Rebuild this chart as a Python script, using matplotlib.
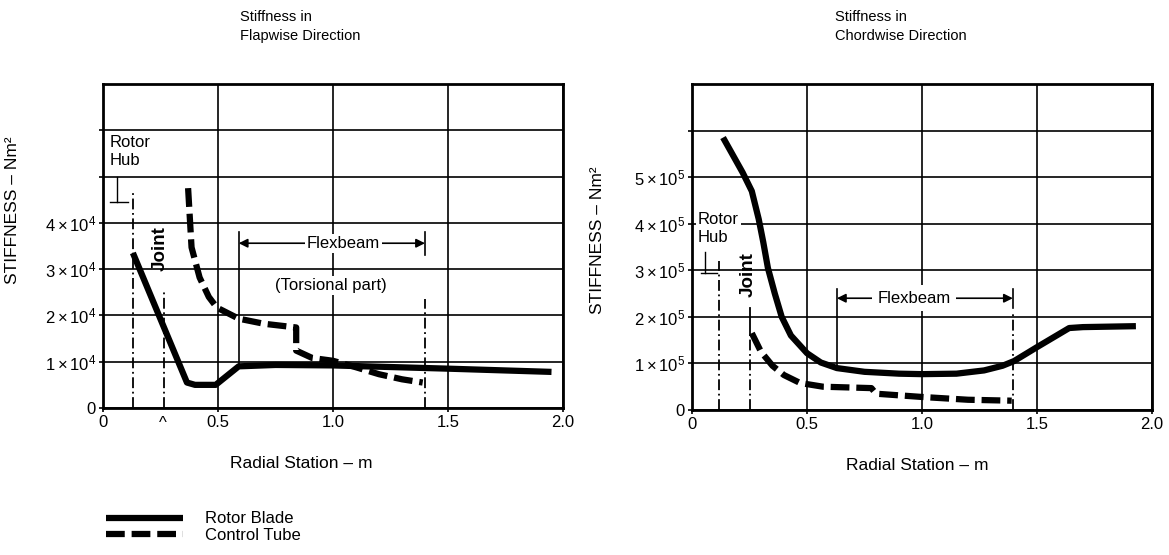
"""
Stiffness of rotor blade and control tube along the radius
Left: flapwise direction / Right: chordwise direction
"""
import numpy as np
import matplotlib
matplotlib.use("Agg")
import matplotlib.pyplot as plt

plt.rcParams["font.family"] = ["Liberation Sans", "DejaVu Sans"]
plt.rcParams["mathtext.fontset"] = "custom"
plt.rcParams["mathtext.rm"] = "Liberation Sans"
plt.rcParams["mathtext.it"] = "Liberation Sans"

# ── data ───────────────────────────────────────────────────────────────────
# flapwise, Nm^2
flap_blade_r = [0.13, 0.365, 0.40, 0.49, 0.59, 0.75, 1.0, 1.5, 1.95]
flap_blade_s = [3.35e4, 0.55e4, 0.50e4, 0.50e4, 0.90e4, 0.93e4, 0.92e4, 0.85e4, 0.78e4]

flap_tube_r = [0.37, 0.385, 0.42, 0.46, 0.495, 0.59, 0.70, 0.84, 0.84, 0.91, 1.0, 1.1, 1.2, 1.3, 1.39]
flap_tube_s = [4.75e4, 3.47e4, 2.82e4, 2.40e4, 2.17e4, 1.93e4, 1.82e4, 1.74e4,
               1.24e4, 1.08e4, 1.02e4, 0.88e4, 0.73e4, 0.62e4, 0.55e4]

# chordwise, Nm^2
chord_blade_r = [0.135, 0.22, 0.26, 0.29, 0.31, 0.33, 0.36, 0.39, 0.43, 0.50, 0.56,
                 0.63, 0.75, 0.90, 1.0, 1.15, 1.27, 1.35, 1.40, 1.50, 1.64, 1.70, 1.93]
chord_blade_s = [5.85e5, 5.10e5, 4.70e5, 4.10e5, 3.60e5, 3.05e5, 2.50e5, 2.00e5, 1.60e5,
                 1.22e5, 1.02e5, 0.90e5, 0.82e5, 0.78e5, 0.77e5, 0.78e5, 0.85e5, 0.95e5,
                 1.05e5, 1.35e5, 1.76e5, 1.78e5, 1.80e5]

chord_tube_r = [0.26, 0.30, 0.35, 0.40, 0.47, 0.57, 0.78, 0.80, 1.0, 1.2, 1.39]
chord_tube_s = [1.65e5, 1.25e5, 0.95e5, 0.75e5, 0.58e5, 0.50e5, 0.47e5, 0.35e5,
                0.28e5, 0.22e5, 0.20e5]

x_ticks = [0, 0.5, 1.0, 1.5, 2.0]
x_ticklabels = ["0", "0.5", "1.0", "1.5", "2.0"]
flap_yticklabels = ["0"] + [rf"${k}\times10^4$" for k in range(1, 5)] + ["", ""]
chord_yticklabels = ["0"] + [rf"${k}\times10^5$" for k in range(1, 6)] + [""]

# ── figure ─────────────────────────────────────────────────────────────────
W, H = 1169, 555
fig = plt.figure(figsize=(W / 100, H / 100), dpi=100)
axL = fig.add_axes([103 / W, 1 - 408 / H, 460 / W, 324 / H])
axR = fig.add_axes([692 / W, 1 - 410 / H, 460 / W, 326 / H])

FS = 12
BLADE = dict(color="black", lw=4.5, solid_capstyle="butt", zorder=4)
TUBE = dict(color="black", lw=4.5, dashes=(3.0, 1.1), dash_capstyle="butt", zorder=4)
MARK = dict(color="black", lw=1.3, linestyle=(0, (6, 2, 1, 2)), zorder=3)


def style_axes(ax, unit, labels):
    ax.set_xlim(0, 2.0)
    ax.set_ylim(0, 7 * unit)
    ax.set_xticks(x_ticks)
    ax.set_xticklabels(x_ticklabels, fontsize=FS)
    ax.set_yticks([k * unit for k in range(len(labels))])
    ax.set_yticklabels(labels, fontsize=FS)
    ax.tick_params(direction="out", length=3, width=1.2, pad=2)
    ax.grid(True, color="black", lw=1.2, zorder=1)
    for sp in ax.spines.values():
        sp.set_linewidth(2.0)
    ax.set_xlabel("Radial Station – m", fontsize=12.5)
    ax.set_ylabel("STIFFNESS – Nm²", fontsize=12.5)


WHITE = dict(facecolor="white", edgecolor="none", pad=1.5)

# ── flapwise ───────────────────────────────────────────────────────────────
style_axes(axL, 1e4, flap_yticklabels)
axL.xaxis.set_label_coords(0.43, -0.148)
axL.yaxis.set_label_coords(-0.18, 0.61)
lb, = axL.plot(flap_blade_r, flap_blade_s, **BLADE)
lt, = axL.plot(flap_tube_r, flap_tube_s, **TUBE)

axL.plot([0.13, 0.13], [0, 4.7e4], **MARK)            # rotor hub
axL.plot([0.265, 0.265], [0, 2.55e4], **MARK)         # joint
axL.plot([0.59, 0.59], [0.92e4, 3.8e4], color="black", lw=1.2, zorder=3)
axL.plot([1.40, 1.40], [3.3e4, 3.8e4], color="black", lw=1.2, zorder=3)
axL.plot([1.40, 1.40], [0, 2.35e4], **MARK)
axL.annotate("", xy=(0.59, 3.56e4), xytext=(1.40, 3.56e4),
             arrowprops=dict(arrowstyle="<|-|>", color="black", lw=1.2,
                             mutation_scale=13, shrinkA=0, shrinkB=0))
axL.text(1.045, 3.56e4, "Flexbeam", ha="center", va="center", fontsize=FS,
         bbox=WHITE, zorder=5)
axL.text(0.99, 2.65e4, "(Torsional part)", ha="center", va="center", fontsize=FS,
         bbox=WHITE, zorder=5)
axL.text(0.03, 5.55e4, "Rotor\nHub", ha="left", va="center", fontsize=FS,
         linespacing=1.25, bbox=WHITE, zorder=5)
axL.plot([0.06, 0.06], [5.0e4, 4.45e4], color="black", lw=1.0, zorder=5)
axL.plot([0.03, 0.11], [4.45e4, 4.45e4], color="black", lw=1.0, zorder=5)
axL.text(0.25, 3.45e4, "Joint", rotation=90, ha="center", va="center",
         fontsize=13.5, fontweight="bold", zorder=5)
axL.annotate("^", xy=(0.26, 0), xycoords=("data", "axes fraction"),
             xytext=(0, -6), textcoords="offset points", ha="center", va="top",
             fontsize=FS, annotation_clip=False)

# ── chordwise ──────────────────────────────────────────────────────────────
style_axes(axR, 1e5, chord_yticklabels)
axR.xaxis.set_label_coords(0.49, -0.148)
axR.yaxis.set_label_coords(-0.19, 0.52)
axR.plot(chord_blade_r, chord_blade_s, **BLADE)
axR.plot(chord_tube_r, chord_tube_s, **TUBE)

axR.plot([0.117, 0.117], [0, 3.2e5], **MARK)          # rotor hub
axR.plot([0.252, 0.252], [1.6e5, 2.2e5], color="black", lw=1.3, zorder=3)
axR.plot([0.252, 0.252], [0, 1.6e5], **MARK)          # joint
axR.plot([0.63, 0.63], [0.9e5, 2.6e5], color="black", lw=1.2, zorder=3)
axR.plot([1.395, 1.395], [2.2e5, 2.6e5], color="black", lw=1.2, zorder=3)
axR.plot([1.395, 1.395], [0, 2.1e5], **MARK)
axR.annotate("", xy=(0.63, 2.4e5), xytext=(1.395, 2.4e5),
             arrowprops=dict(arrowstyle="<|-|>", color="black", lw=1.2,
                             mutation_scale=13, shrinkA=0, shrinkB=0))
axR.text(0.965, 2.4e5, "Flexbeam", ha="center", va="center", fontsize=FS,
         bbox=dict(facecolor="white", edgecolor="none", pad=4), zorder=5)
axR.text(0.026, 3.9e5, "Rotor\nHub", ha="left", va="center", fontsize=FS,
         linespacing=1.25, bbox=WHITE, zorder=5)
axR.plot([0.055, 0.055], [3.4e5, 2.94e5], color="black", lw=1.0, zorder=5)
axR.plot([0.04, 0.11], [2.94e5, 2.94e5], color="black", lw=1.0, zorder=5)
axR.text(0.245, 2.9e5, "Joint", rotation=90, ha="center", va="center",
         fontsize=13.5, fontweight="bold", zorder=5)

# ── titles and legend ──────────────────────────────────────────────────────
fig.text(240 / W, 1 - 10 / H, "Stiffness in\nFlapwise Direction", ha="left", va="top",
         fontsize=10.5, linespacing=1.45)
fig.text(835 / W, 1 - 10 / H, "Stiffness in\nChordwise Direction", ha="left", va="top",
         fontsize=10.5, linespacing=1.45)

fig.legend([lb, lt], ["Rotor Blade", "Control Tube"], loc="upper left",
           bbox_to_anchor=(98 / W, 1 - 503 / H), frameon=False, fontsize=12,
           handlelength=4.6, handletextpad=1.3, labelspacing=0.1, borderpad=0)

plt.savefig("out.png", dpi=100)
plt.close()
